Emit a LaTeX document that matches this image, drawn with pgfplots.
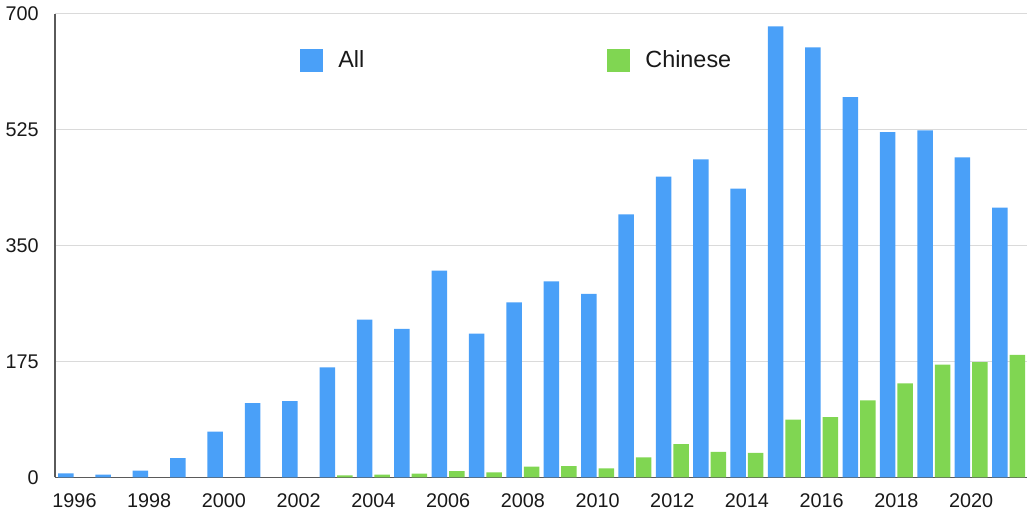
\documentclass[border=0pt]{standalone}
\usepackage{fontspec}
\setmainfont{Liberation Sans}
\usepackage{pgfplots}
\pgfplotsset{compat=1.18}
\definecolor{barblue}{RGB}{74,160,248}
\definecolor{bargreen}{RGB}{128,214,82}
\definecolor{gridgray}{RGB}{218,218,218}
\definecolor{axisgray}{RGB}{90,90,90}
\begin{document}
\begin{tikzpicture}
\begin{axis}[
  at={(27.5pt,17.35pt)}, anchor=south west,
  scale only axis,
  width=485.85pt, height=231.8pt,
  xmin=1995.478, xmax=2021.487,
  ymin=0, ymax=700,
  ybar=1pt, bar width=7.75pt,
  axis x line*=bottom, axis y line*=left,
  axis line style={-, draw=axisgray, line width=0.6pt},
  ymajorgrids, grid style={draw=gridgray, line width=0.6pt},
  major tick length=0pt,
  xtick={1996,1998,...,2020},
  ytick={0,175,350,525,700},
  /pgf/number format/assume math mode=true,
  xticklabel style={/pgf/number format/1000 sep={}, inner sep=0pt, anchor=north, yshift=-7.8pt},
  yticklabel style={inner sep=0pt, anchor=east, xshift=-8pt},
  ticklabel style={font=\fontsize{9.9}{12}\selectfont, text=black!90},
  legend columns=2,
  legend style={draw=none, fill=none, at={(0.2521,0.9)}, anchor=west, inner sep=0pt,
    nodes={inner sep=0pt, font=\fontsize{11.7}{14}\selectfont, text=black!90},
    /tikz/every odd column/.append style={column sep=7.5pt},
    /tikz/every even column/.append style={column sep=121.5pt}},
  legend cell align=left,
  legend image code/.code={\fill[#1,draw=none] (0pt,-5.75pt) rectangle (11.5pt,5.75pt);},
]
\addplot[fill=barblue, draw=none] coordinates {
(1996,6) (1997,4) (1998,10) (1999,29) (2000,69) (2001,112) (2002,115)
(2003,166) (2004,238) (2005,224) (2006,312) (2007,217) (2008,264) (2009,296)
(2010,277) (2011,397) (2012,454) (2013,480) (2014,436) (2015,681) (2016,649)
(2017,574) (2018,521) (2019,524) (2020,483) (2021,407)};
\addlegendentry{All}
\addplot[fill=bargreen, draw=none] coordinates {
(2003,3) (2004,4) (2005,5.5) (2006,9.5) (2007,7.5) (2008,16) (2009,17)
(2010,13.5) (2011,30) (2012,50) (2013,38.5) (2014,37) (2015,87) (2016,91)
(2017,116) (2018,142) (2019,170) (2020,174) (2021,185)};
\addlegendentry{Chinese}
\end{axis}
\pgfresetboundingbox
\path (0,0) rectangle (516pt,256pt);
\end{tikzpicture}
\end{document}
